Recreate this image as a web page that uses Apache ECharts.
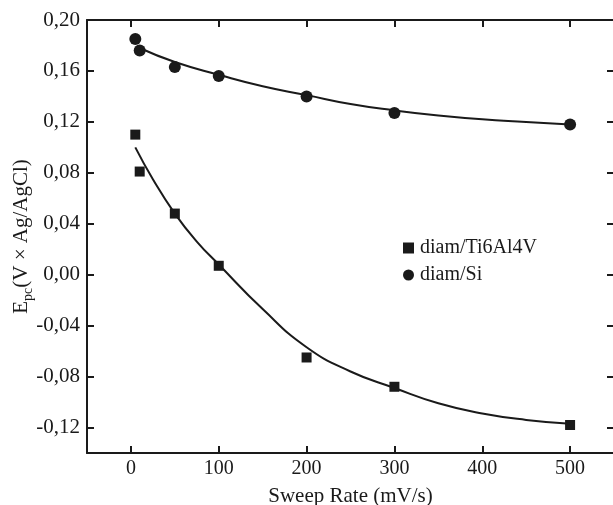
<!DOCTYPE html>
<html>
<head>
<meta charset="UTF-8">
<title>Epc vs Sweep Rate</title>
<script src="https://cdn.jsdelivr.net/npm/echarts@6/dist/echarts.min.js"></script>
<style>
  html, body { margin: 0; padding: 0; overflow: hidden; background: #fff; }
  #main { width: 616px; height: 505px; }
</style>
</head>
<body>
<div id="main"></div>
<script>
// measured points
var siRate = [5, 10, 50, 100, 200, 300, 500];
var siEpc = [0.185, 0.176, 0.163, 0.156, 0.140, 0.127, 0.118];
var tiRate = [5, 10, 50, 100, 200, 300, 500];
var tiEpc = [0.110, 0.081, 0.048, 0.007, -0.065, -0.088, -0.118];
// fitted curves
var siFitRate = [10, 50, 100, 150, 200, 250, 300, 350, 400, 450, 500];
var siFitEpc = [0.178, 0.167, 0.157, 0.148, 0.141, 0.134, 0.129, 0.125, 0.122, 0.120, 0.118];
var tiFitRate = [5, 25, 50, 75, 100, 150, 200, 250, 300, 350, 400, 450, 500];
var tiFitEpc = [0.100, 0.075, 0.048, 0.026, 0.008, -0.027, -0.057, -0.076, -0.089, -0.101, -0.109, -0.114, -0.117];
// ticks
var xTicks = [0, 100, 200, 300, 400, 500];
var yTicks = [-0.12, -0.08, -0.04, 0, 0.04, 0.08, 0.12, 0.16, 0.20];

function pairs(xs, ys) {
  var out = [];
  for (var i = 0; i < xs.length; i++) out.push([xs[i], ys[i]]);
  return out;
}

var FONT = 'Liberation Serif';
var INK = '#1a1a1a';

var myChart = echarts.init(document.getElementById('main'));

function xAx(pos, show) {
  return {
    type: 'value', position: pos, min: -50, max: 550,
    axisLine: { show: true, onZero: false, lineStyle: { color: INK, width: 2 } },
    axisTick: { show: true, inside: true, length: 7, customValues: xTicks, lineStyle: { color: INK, width: 2 } },
    axisLabel: { show: show, customValues: xTicks, margin: 6, color: INK, fontFamily: FONT, fontSize: 20 },
    splitLine: { show: false }
  };
}
function yAx(pos, show) {
  return {
    type: 'value', position: pos, min: -0.14, max: 0.20,
    axisLine: { show: true, onZero: false, lineStyle: { color: INK, width: 2 } },
    axisTick: { show: true, inside: true, length: 7, customValues: yTicks, lineStyle: { color: INK, width: 2 } },
    axisLabel: {
      show: show, customValues: yTicks, margin: 7, color: INK, fontFamily: FONT, fontSize: 21,
      formatter: function (v) { return v.toFixed(2).replace('.', ','); }
    },
    splitLine: { show: false }
  };
}

var xa = xAx('bottom', true);
xa.name = 'Sweep Rate (mV/s)';
xa.nameLocation = 'middle';
xa.nameGap = 33;
xa.nameMoveOverlap = false;
xa.nameTextStyle = { color: INK, fontFamily: FONT, fontSize: 21 };

var ya = yAx('left', true);
ya.name = '{e|E}{s|pc}{e|(V × Ag/AgCl)}';
ya.nameLocation = 'middle';
ya.nameGap = 52;
ya.nameMoveOverlap = false;
ya.nameTextStyle = {
  color: INK, fontFamily: FONT, fontSize: 21,
  rich: {
    e: { color: INK, fontFamily: FONT, fontSize: 21, lineHeight: 28, verticalAlign: 'middle' },
    s: { color: INK, fontFamily: FONT, fontSize: 14, lineHeight: 28, verticalAlign: 'bottom', padding: [8, 0, 0, 0] }
  }
};

myChart.setOption({
  animation: false,
  backgroundColor: '#fff',
  grid: { left: 87, right: 2, top: 20, bottom: 52, containLabel: false, outerBoundsMode: 'none' },
  xAxis: [xa, xAx('top', false)],
  yAxis: [ya, yAx('right', false)],
  legend: {
    orient: 'vertical', left: 398, top: 233, itemGap: 7,
    itemWidth: 11, itemHeight: 11,
    data: [{ name: 'diam/Ti6Al4V', icon: 'rect' }, { name: 'diam/Si', icon: 'circle' }],
    textStyle: { color: INK, fontFamily: FONT, fontSize: 20, padding: [0, 0, 0, 1] }
  },
  series: [
    {
      name: 'Ti fit', type: 'line', smooth: true, showSymbol: false, silent: true,
      data: pairs(tiFitRate, tiFitEpc), lineStyle: { color: INK, width: 2 }
    },
    {
      name: 'Si fit', type: 'line', smooth: true, showSymbol: false, silent: true,
      data: pairs(siFitRate, siFitEpc), lineStyle: { color: INK, width: 2 }
    },
    {
      name: 'diam/Ti6Al4V', type: 'scatter', symbol: 'rect', symbolSize: 10,
      itemStyle: { color: INK, opacity: 1 }, data: pairs(tiRate, tiEpc)
    },
    {
      name: 'diam/Si', type: 'scatter', symbol: 'circle', symbolSize: 12,
      itemStyle: { color: INK, opacity: 1 }, data: pairs(siRate, siEpc)
    }
  ]
});
</script>
</body>
</html>
